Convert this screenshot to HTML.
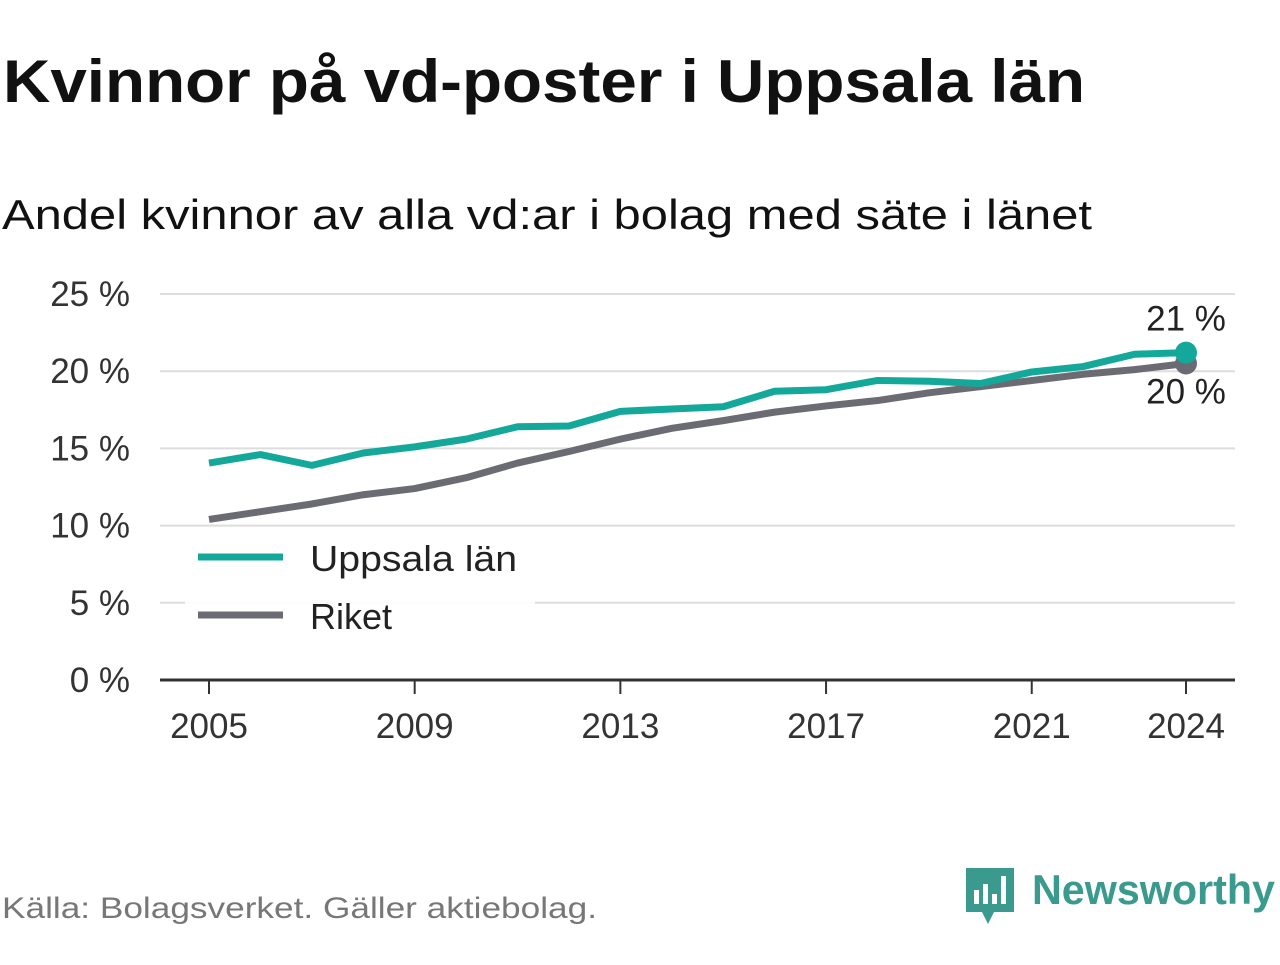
<!DOCTYPE html>
<html><head><meta charset="utf-8">
<style>
body{margin:0;width:1280px;height:960px;background:#fff;font-family:"Liberation Sans","DejaVu Sans",sans-serif;overflow:hidden}
svg text{font-family:"Liberation Sans","DejaVu Sans",sans-serif}
</style></head><body>
<svg id="chart" width="1280" height="960">
<text x="3" y="102" font-size="60" font-weight="bold" fill="#111" textLength="1082" lengthAdjust="spacingAndGlyphs">Kvinnor på vd-poster i Uppsala län</text>
<text x="2" y="229" font-size="42" fill="#111" textLength="1090" lengthAdjust="spacingAndGlyphs">Andel kvinnor av alla vd:ar i bolag med säte i länet</text>
<g id="grid"></g><g id="xaxis"></g><g id="lines"></g>
<g>
<rect x="185" y="528" width="350" height="115" fill="#fff" opacity="0.9"/>
<line x1="198" y1="557" x2="283" y2="557" stroke="#14a89b" stroke-width="7"/>
<text x="310" y="571" font-size="36" fill="#222" textLength="207" lengthAdjust="spacingAndGlyphs">Uppsala län</text>
<line x1="198" y1="615" x2="283" y2="615" stroke="#6b6b73" stroke-width="7"/>
<text x="310" y="629" font-size="36" fill="#222">Riket</text>
</g>
<text x="2" y="918" font-size="30" fill="#777" textLength="595" lengthAdjust="spacingAndGlyphs">Källa: Bolagsverket. Gäller aktiebolag.</text>
<g>
<path d="M966 868 h48 v44 h-20 l-6 12 l-6 -12 h-16 z" fill="#3a9a8e"/>
<rect x="974" y="890" width="5" height="14" fill="#fff"/><rect x="983" y="884" width="5" height="20" fill="#fff"/><rect x="992" y="894" width="5" height="10" fill="#fff"/><rect x="1001" y="876" width="5" height="28" fill="#fff"/>
<text x="1032" y="904" font-size="42" font-weight="bold" fill="#3a9a8e" textLength="243" lengthAdjust="spacingAndGlyphs">Newsworthy</text>
</g>
</svg>
<script>
const years=[2005,2006,2007,2008,2009,2010,2011,2012,2013,2014,2015,2016,2017,2018,2019,2020,2021,2022,2023,2024];
const uppsala=[14.05,14.6,13.9,14.7,15.1,15.6,16.4,16.45,17.4,17.55,17.7,18.7,18.8,19.4,19.35,19.2,19.95,20.3,21.1,21.2];
const riket=[10.4,10.9,11.4,12.0,12.4,13.1,14.05,14.8,15.6,16.3,16.8,17.35,17.75,18.1,18.6,19.0,19.4,19.8,20.1,20.5];
const yTicks=[0,5,10,15,20,25];
const xTicks=[2005,2009,2013,2017,2021,2024];
const NS="http://www.w3.org/2000/svg";
const X=v=>209+(v-2005)*(1186-209)/19;
const Y=v=>680-v*(680-294)/25;
function mk(t,a,p){const e=document.createElementNS(NS,t);for(const k in a)e.setAttribute(k,a[k]);p.appendChild(e);return e;}
const g=document.getElementById('grid'),xa=document.getElementById('xaxis'),ln=document.getElementById('lines');
yTicks.forEach(v=>{
 if(v>0){const l=mk('line',{x1:160,x2:1235,y1:Y(v),y2:Y(v),stroke:'#ddd','stroke-width':2},g);
 
 }
 const t=mk('text',{x:130,y:Y(v)+12,'text-anchor':'end','font-size':35,fill:'#333'},g);t.textContent=v+' %';
 
 
});
const ax=mk('line',{x1:160,x2:1235,y1:680,y2:680,stroke:'#333','stroke-width':3},xa);


xTicks.forEach(v=>{
 mk('line',{x1:X(v),x2:X(v),y1:680,y2:694,stroke:'#333','stroke-width':2},xa);
 const t=mk('text',{x:X(v),y:738,'text-anchor':'middle','font-size':35,fill:'#333'},xa);t.textContent=v;
 
 
});
function series(vals,col,name){
 const p=mk('polyline',{points:vals.map((v,i)=>X(years[i])+','+Y(v)).join(' '),fill:'none',stroke:col,'stroke-width':7,'stroke-linejoin':'round'},ln);
 
 
 const n=vals.length-1;
 const c=mk('circle',{cx:X(years[n]),cy:Y(vals[n]),r:11,fill:col},ln);
 
 
}
series(riket,'#6b6b73','line-riket');
series(uppsala,'#14a89b','line-uppsala');
const l1=mk('text',{x:1186,y:Y(uppsala[19])-22,'text-anchor':'middle','font-size':35,fill:'#222'},ln);l1.textContent=Math.round(uppsala[19])+' %';


const l2=mk('text',{x:1186,y:Y(riket[19])+40,'text-anchor':'middle','font-size':35,fill:'#222'},ln);l2.textContent=Math.round(riket[19]-0.01)+' %';


</script>
</body></html>
